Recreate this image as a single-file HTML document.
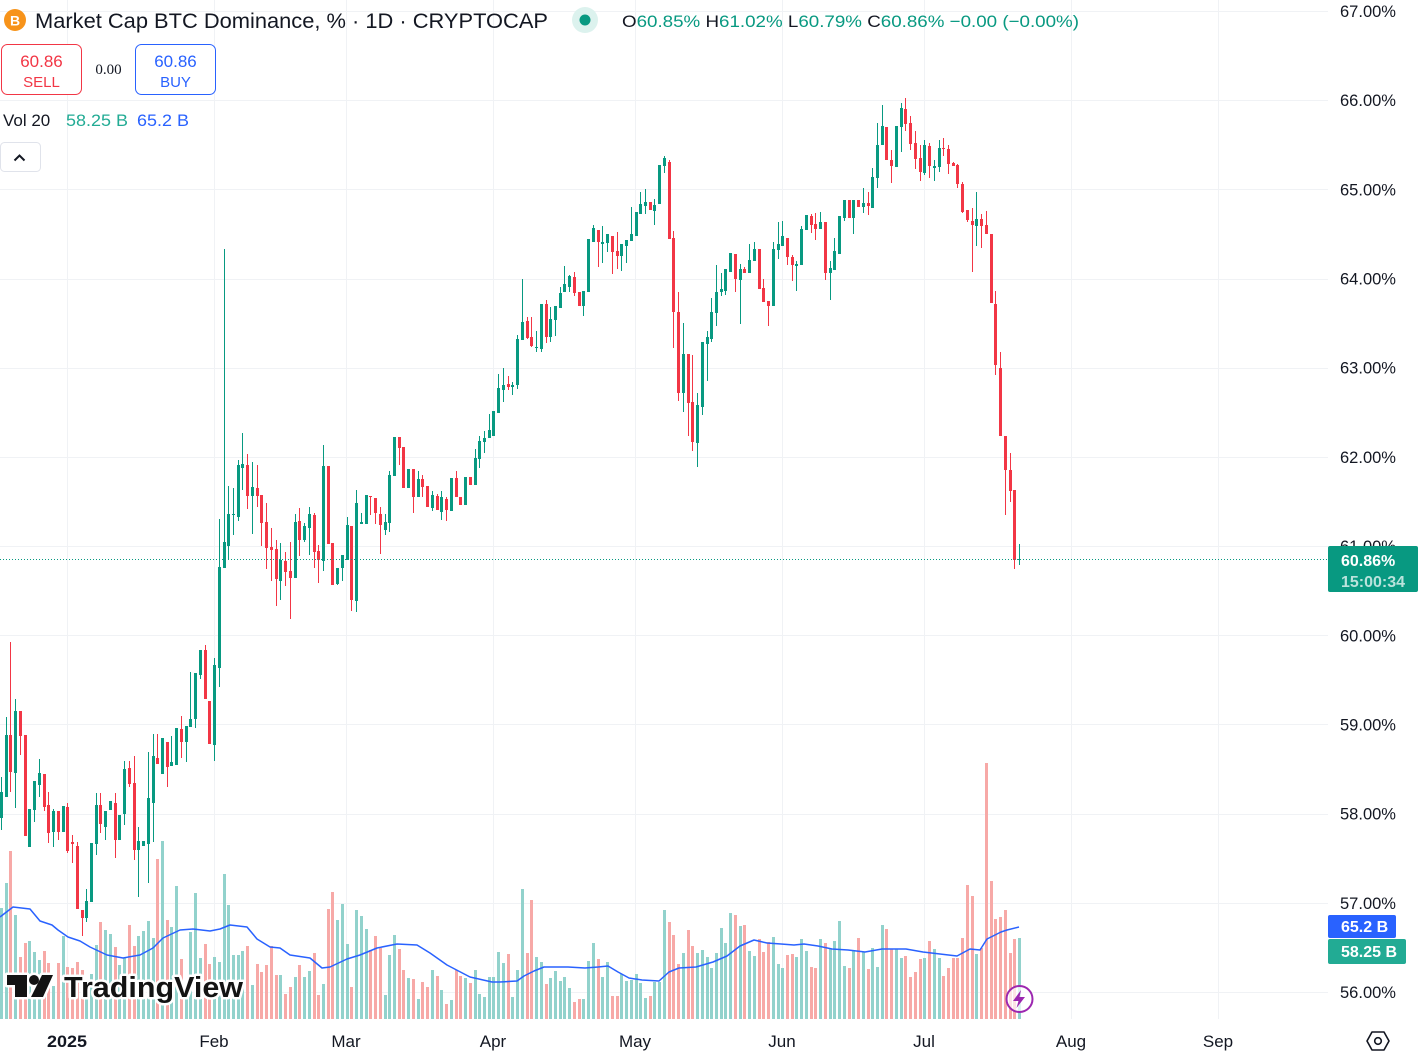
<!DOCTYPE html>
<html><head><meta charset="utf-8">
<style>
html,body{margin:0;padding:0;background:#fff;}
svg{display:block;font-family:"Liberation Sans",sans-serif;}
</style></head>
<body>
<svg id="s" width="1425" height="1061" viewBox="0 0 1425 1061" xmlns="http://www.w3.org/2000/svg">
<rect x="0" y="0" width="1425" height="1061" fill="#ffffff"/>
<g id="grid"></g>
<g id="vol"></g>
<polyline id="ma" fill="none" stroke="#2962ff" stroke-width="1.5" stroke-linejoin="round" points="0,917 13,907 30,909 40,921 52,925 58,930 68,937 80,941 90,947 107,955 123,958 140,955 153,948 163,938 180,930 193,929 210,931 220,929 230,925 247,927 257,939 270,947 280,948 290,955 310,958 322,968 330,967 347,959 360,955 377,948 397,944 417,945 430,953 447,965 470,977 492,982 500,982 517,981 524,976 534,971 544,967 568,967 585,968 598,967 608,966 618,972 629,978 642,980 659,981 669,972 679,968 696,967 713,962 727,956 740,946 754,940 767,943 781,944 794,945 804,944 818,946 832,949 848,950 865,952 882,949 906,949 923,952 940,954 957,956 970,949 980,950 987,939 1001,932 1007,930 1019,927"/>
<g id="candles"></g>
<line x1="0" y1="559.5" x2="1328" y2="559.5" stroke="#089981" stroke-width="1" stroke-dasharray="1,2"/>

<!-- watermark -->
<g>
  <g stroke="#fff" stroke-width="5" stroke-linejoin="round" fill="#fff">
    <rect x="7" y="975" width="20" height="10"/><rect x="15" y="975" width="12" height="22"/>
    <circle cx="34" cy="980" r="5"/><polygon points="42,975 53,975 43,997 31,997"/>
  </g>
  <g fill="#131313">
    <rect x="7" y="975" width="20" height="10"/><rect x="15" y="975" width="12" height="22"/>
    <circle cx="34" cy="980" r="5"/><polygon points="42,975 53,975 43,997 31,997"/>
  </g>
  <text x="64" y="997" font-size="29" font-weight="bold" fill="#131313" stroke="#fff" stroke-width="5" stroke-linejoin="round" paint-order="stroke" textLength="179" lengthAdjust="spacingAndGlyphs">TradingView</text>
</g>

<!-- lightning icon -->
<g>
  <circle cx="1019.5" cy="999" r="13" fill="#fff" fill-opacity="0.7" stroke="#9c27b0" stroke-width="2"/>
  <polygon points="1021,990 1013,1001 1018.5,1001 1016.5,1008 1025,997 1019.5,997 1021,990" fill="#9c27b0"/>
</g>

<!-- header legend -->
<circle cx="15" cy="20" r="11" fill="#f7931a"/>
<text x="15" y="25.5" font-size="14" font-weight="bold" fill="#fff" text-anchor="middle">B</text>
<text x="35" y="28" font-size="21" fill="#131722" textLength="513" lengthAdjust="spacingAndGlyphs">Market Cap BTC Dominance, % · 1D · CRYPTOCAP</text>
<circle cx="585" cy="20" r="13" fill="#dcf2ee"/>
<circle cx="585" cy="20" r="5.5" fill="#089981"/>
<text x="622" y="27" font-size="17" fill="#089981" textLength="457" lengthAdjust="spacingAndGlyphs"><tspan fill="#131722">O</tspan>60.85% <tspan fill="#131722">H</tspan>61.02% <tspan fill="#131722">L</tspan>60.79% <tspan fill="#131722">C</tspan>60.86% −0.00 (−0.00%)</text>

<rect x="1.5" y="44.5" width="80" height="50" rx="6" fill="#fff" stroke="#f23645" stroke-width="1"/>
<text x="41.5" y="67" font-size="17" fill="#f23645" text-anchor="middle">60.86</text>
<text x="41.5" y="87" font-size="15" fill="#f23645" text-anchor="middle">SELL</text>
<text x="108.5" y="74" font-size="15" fill="#131722" text-anchor="middle" font-family="Liberation Serif, serif">0.00</text>
<rect x="135.5" y="44.5" width="80" height="50" rx="6" fill="#fff" stroke="#2962ff" stroke-width="1"/>
<text x="175.5" y="67" font-size="17" fill="#2962ff" text-anchor="middle">60.86</text>
<text x="175.5" y="87" font-size="15" fill="#2962ff" text-anchor="middle">BUY</text>

<text x="3" y="126" font-size="17" fill="#131722">Vol 20</text>
<text x="66" y="126" font-size="17" fill="#22ab94" textLength="62" lengthAdjust="spacingAndGlyphs">58.25 B</text>
<text x="137" y="126" font-size="17" fill="#2962ff" textLength="52" lengthAdjust="spacingAndGlyphs">65.2 B</text>

<rect x="0.5" y="142.5" width="40" height="29" rx="4" fill="#fff" stroke="#e0e3eb"/>
<polyline points="14.5,160.5 19.5,155.5 24.5,160.5" fill="none" stroke="#131722" stroke-width="2"/>

<g id="paxis"></g>

<!-- price label -->
<rect x="1328" y="546" width="90" height="46" rx="2" fill="#089981"/>
<text x="1341" y="566" font-size="16" font-weight="bold" fill="#fff">60.86%</text>
<text x="1341" y="587" font-size="16" font-weight="bold" fill="#fff" fill-opacity="0.72">15:00:34</text>

<rect x="1328" y="915" width="68" height="23" rx="2" fill="#2962ff"/>
<text x="1341" y="932" font-size="16" font-weight="bold" fill="#fff">65.2 B</text>
<rect x="1328" y="939" width="78" height="25" rx="2" fill="#22ab94"/>
<text x="1341" y="957" font-size="16" font-weight="bold" fill="#fff">58.25 B</text>

<!-- time axis -->
<g font-size="17" fill="#131722" text-anchor="middle">
<text x="67" y="1047" font-weight="bold" textLength="40" lengthAdjust="spacingAndGlyphs">2025</text>
<text x="214" y="1047">Feb</text>
<text x="346" y="1047">Mar</text>
<text x="493" y="1047">Apr</text>
<text x="635" y="1047">May</text>
<text x="782" y="1047">Jun</text>
<text x="924" y="1047">Jul</text>
<text x="1071" y="1047">Aug</text>
<text x="1218" y="1047">Sep</text>
</g>
<!-- settings -->
<polygon points="1372,1032 1384,1032 1389,1041 1384,1050 1372,1050 1367,1041" fill="none" stroke="#131722" stroke-width="1.6" stroke-linejoin="round"/>
<circle cx="1378" cy="1041" r="3.3" fill="none" stroke="#131722" stroke-width="1.6"/>
</svg>
<script>
(function(){
var NS="http://www.w3.org/2000/svg";
function el(p,t,a){var e=document.createElementNS(NS,t);for(var k in a)e.setAttribute(k,a[k]);p.appendChild(e);return e;}
var C=[[818,792,777,830],[797,735,717,797],[735,772,642,792],[773,711,699,808],[711,736,711,755],[735,836,735,836],[847,809,809,847],[810,781,781,822],[785,773,759,797],[774,807,774,811],[805,833,792,843],[832,811,809,847],[811,832,811,840],[832,806,806,832],
[807,851,803,853],[842,844,835,863],[846,909,842,909],[910,918,910,936],[918,901,889,922],[902,843,843,902],[844,805,793,855],[805,824,793,833],[827,811,811,840],[810,801,801,810],
[803,840,793,858],[840,815,815,840],[814,769,761,825],[768,784,761,787],[783,850,756,860],[850,841,827,897],[846,841,841,846],[844,798,752,883],[803,756,734,842],[758,764,734,764],
[774,738,738,774],[742,767,742,787],[766,762,736,766],[765,728,728,765],[729,742,716,758],[742,726,726,762],[727,719,672,727],[719,673,673,728],[675,650,650,679],[650,699,645,699],
[701,744,701,744],[745,665,658,761],[668,567,519,687],[568,542,249,568],[546,514,486,559],[515,514,488,535],[517,465,460,521],[468,464,433,490],[465,496,454,509],[496,487,462,534],
[488,496,465,507],[495,523,495,546],[522,548,503,569],[547,550,528,581],[549,579,540,606],[581,560,543,600],[561,572,552,586],[571,578,542,619],[578,522,514,578],[521,540,508,556],
[540,526,523,542],[528,514,507,555],[515,552,513,568],[551,560,545,583],[561,466,445,571],[466,544,466,544],[543,585,543,585],[584,568,568,585],[568,555,555,581],[560,525,517,560],
[526,600,526,611],[601,503,490,612],[524,522,513,524],[524,495,495,524],[496,497,496,515],[498,513,498,524],[514,525,507,554],[530,522,514,535],[523,475,471,532],[476,437,437,476],
[437,448,437,465],[447,488,447,488],[488,469,469,488],[469,497,469,513],[497,479,471,497],[479,487,475,497],[486,507,486,507],[508,495,491,511],[496,510,494,510],[512,497,491,520],
[499,510,497,521],[511,478,478,511],[478,497,471,497],[497,505,497,505],[505,477,477,505],[477,485,477,485],[485,458,449,485],[459,441,436,468],[442,438,431,453],[438,430,414,438],
[436,411,411,436],[413,388,374,413],[390,385,368,402],[384,387,376,390],[387,385,382,395],[385,339,335,389],[340,322,279,340],[321,338,317,339],[337,346,317,347],[348,347,331,352],
[349,304,304,352],[304,337,300,343],[337,319,307,342],[320,306,306,336],[308,293,287,308],[292,284,266,292],[287,276,275,292],[277,293,272,296],[292,306,292,306],[306,291,291,316],
[292,239,239,292],[242,228,225,242],[230,242,230,267],[244,242,226,263],[243,234,234,252],[236,252,236,274],[251,256,232,269],[256,244,244,271],[246,240,240,263],[241,234,207,241],
[236,212,212,236],[214,204,192,214],[206,202,189,214],[202,210,202,210],[211,205,199,225],[204,165,165,204],[166,158,156,173],[162,239,160,239],[238,312,231,348],[312,393,292,401],
[393,354,323,412],[354,403,354,436],[402,442,355,451],[443,405,393,467],[407,342,342,415],[344,337,331,381],[339,312,298,342],[313,292,265,326],[292,289,273,296],[291,269,269,295],
[272,253,253,272],[254,279,254,292],[280,269,264,324],[269,273,267,273],[273,260,244,273],[261,249,242,261],[249,289,249,289],[288,302,279,302],[301,306,301,326],[306,249,242,306],
[250,244,222,259],[246,236,221,246],[238,257,238,265],[257,265,255,281],[266,264,261,291],[265,229,226,265],[230,215,215,230],[216,225,214,233],[224,229,213,240],[229,222,212,229],
[222,273,222,280],[273,268,261,300],[270,251,238,270],[254,216,216,254],[218,200,200,221],[200,218,200,218],[218,200,200,234],[200,207,200,207],[207,203,188,213],[203,206,192,215],
[208,177,168,208],[178,145,123,188],[145,126,105,145],[127,160,127,160],[160,166,150,183],[167,126,126,167],[127,108,103,152],[109,124,98,131],[123,144,116,150],[143,159,131,169],
[158,172,145,181],[173,145,140,175],[146,166,143,178],[168,166,160,181],[167,148,140,172],[148,149,138,156],[149,164,145,174],[163,166,162,166],[165,184,164,188],[184,212,182,213],
[210,220,210,222],[221,225,208,272],[226,219,192,246],[219,226,214,248],[225,234,211,234],[234,303,234,303],[304,365,291,375],[368,436,352,436],[436,470,436,515],[470,491,453,502],
[490,560,490,569],[560,559,544,565]];
var V=[908,883,851,915,957,943,941,952,960,951,963,986,963,936,
967,968,962,970,983,974,945,922,930,934,947,965,958,925,946,936,931,921,938,859,841,920,927,886,959,996,932,893,958,944,964,
957,962,874,905,955,955,951,946,985,964,972,965,946,975,975,994,987,977,965,977,971,953,995,984,909,892,920,904,
944,987,910,916,929,950,936,948,995,955,935,949,970,978,979,999,982,987,970,976,990,1004,1000,970,976,978,983,970,994,997,977,977,952,963,954,997,970,
889,953,900,957,962,984,978,971,981,977,988,1002,999,999,961,943,959,977,962,996,996,974,981,980,974,983,998,996,982,982,
910,922,935,964,953,930,946,953,950,957,968,953,928,943,913,915,926,925,951,956,939,952,942,937,964,968,955,954,957,939,
951,967,968,939,943,949,941,921,966,968,951,938,952,969,948,967,925,929,949,949,958,956,977,972,959,958,941,949,958,976,
968,958,958,938,885,896,954,948,763,881,919,917,910,953,939,938];
var grid=document.getElementById('grid');
// horizontal grid
for(var p=67;p>=56;p--){var y=Math.round(11+(67-p)*89.18)+0.5;el(grid,'line',{x1:0,y1:y,x2:1328,y2:y,stroke:'#f0f2f5','stroke-width':1});}
[67,214,346,493,635,782,924,1071,1218].forEach(function(x){el(grid,'line',{x1:x+0.5,y1:0,x2:x+0.5,y2:1019,stroke:'#f0f2f5','stroke-width':1});});
var pa=document.getElementById('paxis');
for(var p=67;p>=56;p--){var y=11+(67-p)*89.18;var t=el(pa,'text',{x:1340,y:(y+6).toFixed(1),'font-size':17,fill:'#131722',textLength:56,lengthAdjust:'spacingAndGlyphs'});t.textContent=p+'.00%';}
var vg=document.getElementById('vol'),cg=document.getElementById('candles');
for(var i=0;i<C.length;i++){
 var cx=Math.round(67.3+(i-14)*4.735);
 var c=C[i],up=c[1]<=c[0];
 var v=V[i];
 el(vg,'rect',{x:cx-1,y:v,width:3,height:1019-v,fill:up?'#92d2cc':'#f7a9a7'});
 var col=up?'#089981':'#f23645';
 var top=Math.min(c[0],c[1]),bot=Math.max(c[0],c[1]);
 var h=Math.min(c[2],top),l=Math.max(c[3],bot);
 el(cg,'rect',{x:cx,y:h,width:1,height:Math.max(1,l-h),fill:col});
 el(cg,'rect',{x:cx-1,y:top,width:3,height:Math.max(1,bot-top),fill:col});
}
})();
</script>
</body></html>
